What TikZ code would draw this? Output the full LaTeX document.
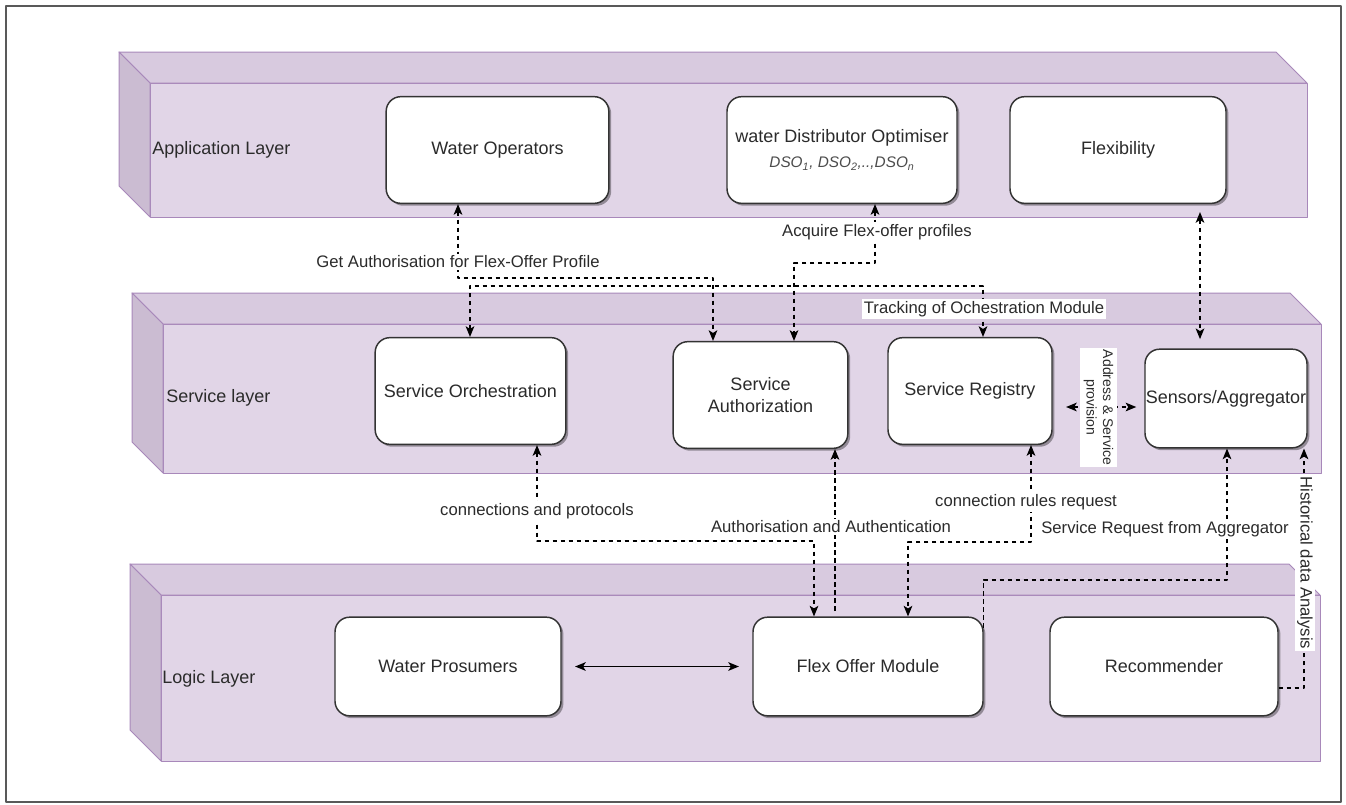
\documentclass[tikz,border=0pt]{standalone}
\usepackage{fontspec}
\setmainfont{Liberation Sans}
\usetikzlibrary{arrows.meta,shadows}
\definecolor{capafrente}{HTML}{E1D5E7}
\definecolor{capaarriba}{HTML}{D8CADF}
\definecolor{capalado}{HTML}{CBBCD2}
\definecolor{capaborde}{HTML}{A888BA}
\definecolor{cajaborde}{HTML}{333333}
\definecolor{texto}{HTML}{2B2B2B}
\begin{document}
\begin{tikzpicture}[x=0.75pt, y=-0.75pt, line join=round,
  >={Stealth[length=8pt, width=6.5pt, inset=2pt]},
  caja/.style={draw=cajaborde, fill=white, line width=1.1pt, rounded corners=11pt,
    align=center, text=texto, font=\fontsize{13.5}{16.5}\selectfont,
    drop shadow={shadow xshift=1.8pt, shadow yshift=-1.8pt, fill=black, opacity=0.35}},
  capa/.style={anchor=west, inner sep=0pt, text=texto, font=\fontsize{13.5}{16}\selectfont},
  etiq/.style={fill=white, inner sep=1.5pt, text=texto, font=\fontsize{12.5}{15}\selectfont},
  punteada/.style={draw=black, line width=0.95pt, dash pattern=on 3.5pt off 2.5pt}]
  \useasboundingbox (0,0) rectangle (1346,804);
  % el marco
  \draw[black!65, line width=1.2pt] (6,6) rectangle (1341,802);
  % las tres capas, como cajas en perspectiva
  \foreach \xa/\ya/\xb/\yb in {119/52/1307/217, 132/293/1321/473, 130/564/1320/761} {
    \filldraw[fill=capafrente, draw=capaborde, line width=0.75pt] (\xa+31,\ya+31) rectangle (\xb,\yb);
    \filldraw[fill=capaarriba, draw=capaborde, line width=0.75pt] (\xa,\ya) -- (\xb-31,\ya)
      -- (\xb,\ya+31) -- (\xa+31,\ya+31) -- cycle;
    \filldraw[fill=capalado, draw=capaborde, line width=0.75pt] (\xa,\ya) -- (\xa+31,\ya+31)
      -- (\xa+31,\yb) -- (\xa,\yb-31) -- cycle;
  }
  \node[capa] (lapp) at (152,150) {Application Layer};
  \node[capa] (lser) at (166,398) {Service layer};
  \node[capa] (llog) at (162,679) {Logic Layer};
  % capa de aplicacion
  \node[caja, minimum width=167pt, minimum height=80pt] (wop) at (497.5,150) {Water Operators};
  \node[caja, minimum width=172.5pt, minimum height=80pt] (dso) at (842,150) {water Distributor Optimiser\\[2.5pt]
    {\color{black!70}\fontsize{11.5}{13}\selectfont\itshape DSO\textsubscript{1}, DSO\textsubscript{2},..,DSO\textsubscript{n}}};
  \node[caja, minimum width=162pt, minimum height=80pt] (flx) at (1118,150) {Flexibility};
  % capa de servicios
  \node[caja, minimum width=143pt, minimum height=80pt] (sor) at (470.5,391) {Service Orchestration};
  \node[caja, minimum width=131pt, minimum height=80pt] (sau) at (760.5,395) {Service\\Authorization};
  \node[caja, minimum width=123pt, minimum height=80pt] (sre) at (970,391) {Service Registry};
  \node[caja, minimum width=121.5pt, minimum height=74pt, inner xsep=0pt] (sag) at (1226,398.5) {Sensors/Aggregator};
  % capa logica
  \node[caja, minimum width=169.5pt, minimum height=74pt] (wpr) at (448,666.5) {Water Prosumers};
  \node[caja, minimum width=172.5pt, minimum height=74pt] (fom) at (868,666.5) {Flex Offer Module};
  \node[caja, minimum width=171pt, minimum height=74pt] (rec) at (1164,666.5) {Recommender};
  % conexiones entre aplicacion y servicios
  \draw[punteada, <->] (458,0 |- wop.south) |- (713,278) -- (713,0 |- sau.north);
  \draw[punteada, <->] (470,0 |- sor.north) |- (983,286) -- (983,0 |- sre.north);
  \draw[punteada, <->] (875,0 |- dso.south) |- (794,263) -- (794,0 |- sau.north);
  \draw[punteada, <->, shorten <=6pt, shorten >=7pt] (1200,0 |- flx.south) -- (1200,0 |- sag.north);
  \draw[punteada, <->, shorten <=10pt, shorten >=6pt] (sre.east |- 0,407) -- (sag.west |- 0,407);
  % conexiones entre servicios y logica
  \draw[punteada, <->] (537,0 |- sor.south) |- (814,541) -- (814,0 |- fom.north);
  \draw[punteada, ->, shorten <=4pt] (835,0 |- fom.north) -- (835,0 |- sau.south);
  \draw[punteada, <->] (1031,0 |- sre.south) |- (908,542) -- (908,0 |- fom.north);
  \draw[punteada, ->] (fom.east |- 0,628) |- (1227,580) -- (1227,0 |- sag.south);
  \draw[punteada, ->] (rec.east |- 0,688) -| (1304,0 |- sag.south);
  \draw[line width=0.95pt, <->, shorten <=10pt, shorten >=10pt] (wpr.east) -- (fom.west);
  % los textos de las conexiones
  \node[etiq] (tget) at (458,262) {Get Authorisation for Flex-Offer Profile};
  \node[etiq] (tacq) at (877,232) {Acquire Flex-offer profiles};
  \node[etiq] (ttrk) at (984,309) {Tracking of Ochestration Module};
  \node[etiq, rotate=-90, align=center, inner ysep=3pt, font=\fontsize{10.5}{12.5}\selectfont] (tadr)
    at (1098.5,407.5) {Address \& Service\\provision};
  \node[etiq, rotate=-90] (this) at (1305,563) {Historical data Analysis};
  \node[etiq] (tcon) at (537,511) {connections and protocols};
  \node[etiq] (taut) at (831,527) {Authorisation and Authentication};
  \node[etiq] (trul) at (1026,502) {connection rules request};
  \node[etiq] (tsrv) at (1165,529) {Service Request from Aggregator};
\end{tikzpicture}
\end{document}
